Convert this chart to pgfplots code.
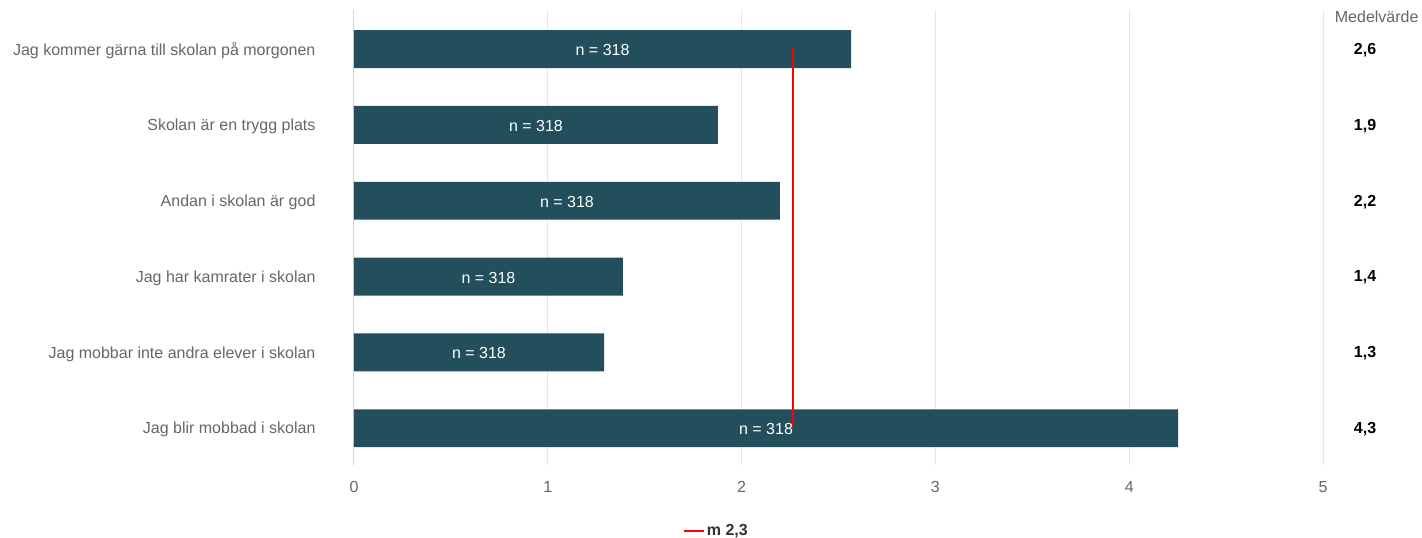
\documentclass[border=0pt]{standalone}
\usepackage{pgfplots}
\pgfplotsset{compat=1.18}
\usepackage{pgfplotstable}
\usepackage{fontspec}
\setmainfont{Liberation Sans}
\definecolor{barc}{HTML}{234E5C}
\definecolor{labc}{HTML}{666666}
\definecolor{gridc}{HTML}{E6E6E6}
\definecolor{axc}{HTML}{CCD6EB}
\definecolor{legtxt}{HTML}{333333}
\pgfplotstableread{
y v lab
0 2.565 {2,6}
1 1.878 {1,9}
2 2.198 {2,2}
3 1.388 {1,4}
4 1.290 {1,3}
5 4.252 {4,3}
}\data
\begin{document}%
\fontsize{16bp}{19bp}\selectfont%
\begin{tikzpicture}
\useasboundingbox (-354bp,-73bp) rectangle (1068bp,465bp);
\begin{axis}[
 at={(0,0)}, anchor=south west,
 scale only axis, width=969bp, height=455bp,
 xmin=0, xmax=5, ymin=-0.515, ymax=5.485, y dir=reverse,
 xtick={0,...,5}, ytick={0,...,5},
 yticklabels={Jag kommer gärna till skolan på morgonen, Skolan är en trygg plats, Andan i skolan är god, Jag har kamrater i skolan, Jag mobbar inte andra elever i skolan, Jag blir mobbad i skolan},
 major tick length=0,
 axis line style={draw=none},
 xmajorgrids, grid style={gridc, line width=1bp},
 extra x ticks={0}, extra x tick labels={}, extra x tick style={grid style={axc,line width=1bp}},
 tick label style={labc},
 yticklabel style={xshift=-33bp, yshift=-1.5bp},
 xticklabel style={yshift=-11bp},
 /pgf/number format/assume math mode=true,
 clip=false,
 legend style={at={(0.374,-0.146)}, anchor=center, draw=none, font=\bfseries, text=legtxt},
 legend image code/.code={\draw[#1] (0bp,0bp) -- (20bp,0bp);},
]
\addplot[xbar, bar width=0.5, fill=barc, draw=none, forget plot] table[x=v, y=y] {\data};
\addplot[draw=none, mark=none, forget plot, nodes near coords={n = 318},
  every node near coord/.append style={anchor=center, white, yshift=-1bp}] table[x expr=\thisrow{v}/2, y=y] {\data};
\addplot[draw=none, mark=none, forget plot, nodes near coords, point meta=explicit symbolic,
  every node near coord/.append style={anchor=center, black, font=\bfseries, yshift=-1bp}] table[x expr=5.217, y=y, meta=lab] {\data};
\addplot[red, line width=2bp] coordinates {(2.265,-0.03) (2.265,5)};
\addlegendentry{m 2,3}
\node[labc, anchor=center] at (axis cs:5.277,-0.42) {Medelvärde};
\end{axis}
\end{tikzpicture}%
\end{document}
